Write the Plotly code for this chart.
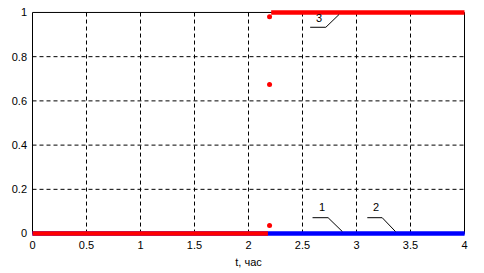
import plotly.graph_objects as go

# ---- data ----
t_blue = [0, 4]
y_blue1 = [0, 0]
y_blue2 = [0, 0]

t_red_low = [0, 2.18]
y_red_low = [0, 0]
t_red_jump = [2.195, 2.195, 2.195]
y_red_jump = [0.036, 0.674, 0.981]
t_red_high = [2.21, 4]
y_red_high = [1, 1]

x_ticks = [0, 0.5, 1, 1.5, 2, 2.5, 3, 3.5, 4]
x_tick_labels = ["0", "0.5", "1", "1.5", "2", "2.5", "3", "3.5", "4"]
y_ticks = [0, 0.2, 0.4, 0.6, 0.8, 1]
y_tick_labels = ["0", "0.2", "0.4", "0.6", "0.8", "1"]

BLUE = "#0000ff"
RED = "#ff0000"
FONT = "Liberation Sans, Arial, sans-serif"

fig = go.Figure()
fig.add_trace(go.Scatter(x=t_blue, y=y_blue1, mode="lines", line=dict(color=BLUE, width=4), showlegend=False))
fig.add_trace(go.Scatter(x=t_blue, y=y_blue2, mode="lines", line=dict(color=BLUE, width=4), showlegend=False))
fig.add_trace(go.Scatter(x=t_red_low, y=y_red_low, mode="lines", line=dict(color=RED, width=4.5), showlegend=False))
fig.add_trace(go.Scatter(x=t_red_high, y=y_red_high, mode="lines", line=dict(color=RED, width=4.5), showlegend=False))
fig.add_trace(go.Scatter(x=t_red_jump, y=y_red_jump, mode="markers",
                         marker=dict(color=RED, size=5, line=dict(width=0)), showlegend=False, cliponaxis=False))

shapes = []
grid = dict(color="black", width=1, dash="4px,3px")
for xv in x_ticks[1:-1]:
    shapes.append(dict(type="line", xref="x", yref="y", x0=xv, x1=xv, y0=0, y1=1, line=grid, layer="below"))
for yv in y_ticks[1:-1]:
    shapes.append(dict(type="line", xref="x", yref="y", x0=0, x1=4, y0=yv, y1=yv, line=grid, layer="below"))
shapes.append(dict(type="rect", xref="x", yref="y", x0=0, x1=4, y0=0, y1=1,
                   line=dict(color="black", width=1), layer="below"))

lead = dict(color="black", width=1)
# leader lines for labels 1, 2, 3
shapes.append(dict(type="path", xref="x", yref="y", path="M 2.593,0.0717 L 2.737,0.0717 L 2.869,0.009", line=lead))
shapes.append(dict(type="path", xref="x", yref="y", path="M 3.100,0.0717 L 3.238,0.0717 L 3.361,0.009", line=lead))
shapes.append(dict(type="path", xref="x", yref="y", path="M 2.571,0.933 L 2.716,0.933 L 2.839,0.991", line=lead))

annotations = [
    dict(x=2.682, y=0.12, text="1", showarrow=False, xref="x", yref="y", font=dict(size=11, color="black", family=FONT)),
    dict(x=3.177, y=0.12, text="2", showarrow=False, xref="x", yref="y", font=dict(size=11, color="black", family=FONT)),
    dict(x=2.65, y=0.974, text="3", showarrow=False, xref="x", yref="y", font=dict(size=11, color="black", family=FONT)),
]

ypad = 2.5 / 225.0
xpad = 0.5 / 108.0
fig.update_layout(
    width=484, height=273,
    margin=dict(l=32, r=19, t=6, b=37),
    paper_bgcolor="white", plot_bgcolor="white",
    font=dict(family=FONT, size=11, color="black"),
    shapes=shapes, annotations=annotations,
    xaxis=dict(range=[-xpad, 4 + xpad], tickvals=x_ticks, ticktext=x_tick_labels, showgrid=False, zeroline=False,
               showline=False, ticks="", ticklabelstandoff=1,
               title=dict(text="t, час", standoff=8, font=dict(size=11, family=FONT))),
    yaxis=dict(range=[-ypad, 1 + ypad], tickvals=y_ticks, ticktext=y_tick_labels, showgrid=False, zeroline=False,
               showline=False, ticks="", ticklabelstandoff=4),
)

fig.write_html("out.html")
